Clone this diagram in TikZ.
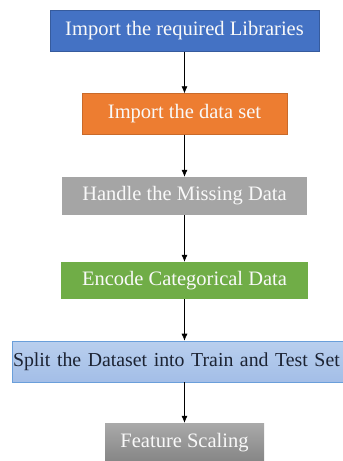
\documentclass[tikz,border=0pt]{standalone}
\usepackage{fontspec}
\setmainfont{Liberation Serif}
\usetikzlibrary{positioning,arrows.meta}

\definecolor{libblue}{HTML}{4472C4}
\definecolor{setorange}{HTML}{ED7D31}
\definecolor{missgray}{HTML}{A5A5A5}
\definecolor{encgreen}{HTML}{70AD47}
\definecolor{splittop}{HTML}{B9CFEE}
\definecolor{splitbot}{HTML}{A3BEE7}
\definecolor{splitline}{HTML}{6A9FDA}
\definecolor{splittext}{HTML}{1C2333}

\begin{document}
\begin{tikzpicture}[x=1pt,y=-1pt,
        font=\fontsize{20.5}{23}\selectfont,>={Latex[length=7pt,width=6pt]},
        every node/.style={inner sep=0pt,text=white!95!gray},
        stepbox/.style={rectangle,minimum height=41pt},
        arr/.style={->,line width=0.6pt}]

    \useasboundingbox[fill=white] (0,0) rectangle (343,461);

    \node[stepbox,fill=libblue,draw=libblue!80!black,line width=0.4pt,minimum width=269pt] (libs) at (184.5,31) {Import the required Libraries};
    \node[stepbox,fill=setorange,draw=setorange!85!black,line width=0.4pt,minimum width=205pt] (data) at (184.5,114) {Import the data set};
    \node[stepbox,fill=missgray,minimum width=245pt,minimum height=38pt] (missing) at (184.5,196) {Handle the Missing Data};
    \node[stepbox,fill=encgreen,minimum width=247pt,minimum height=37pt] (encode) at (184.5,280.5) {Encode Categorical Data};
    \node[stepbox,top color=splittop,bottom color=splitbot,draw=splitline,line width=0.6pt,
          inner xsep=1pt,text width=343pt,align=left,text=splittext,
          font=\fontsize{19.8}{23}\selectfont] (split) at (184.5,361.5) {Split the Dataset into Train and Test Set};
    \node[stepbox,top color=missgray!95!white,bottom color=missgray!80!black,minimum width=159pt,minimum height=40pt] (scaling) at (184.5,443) {Feature Scaling};

    \draw[arr] (libs) -- (data);
    \draw[arr] (data) -- (missing);
    \draw[arr] (missing) -- (encode);
    \draw[arr] (encode) -- (split);
    \draw[arr] (split) -- (scaling);
\end{tikzpicture}
\end{document}
